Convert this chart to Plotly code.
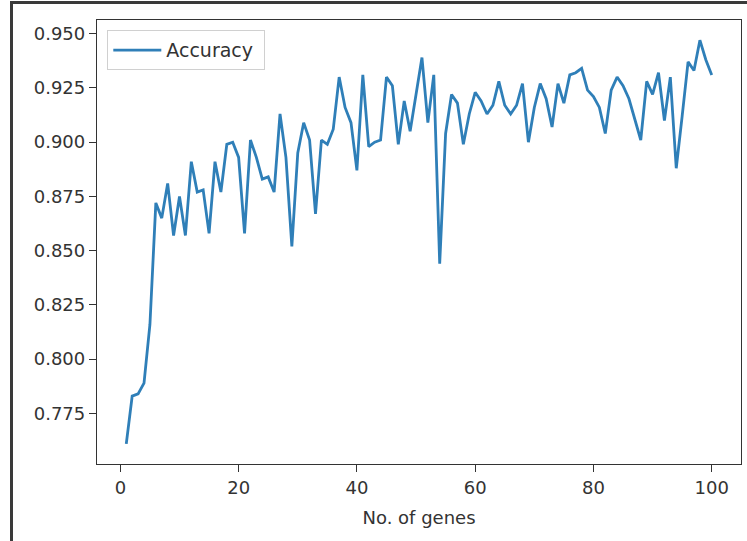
import plotly.graph_objects as go

genes = list(range(1, 101))
accuracy = [
    0.761, 0.783, 0.784, 0.789, 0.816, 0.872, 0.865, 0.881, 0.857, 0.875,
    0.857, 0.891, 0.877, 0.878, 0.858, 0.891, 0.877, 0.899, 0.900, 0.893,
    0.858, 0.901, 0.893, 0.883, 0.884, 0.877, 0.913, 0.893, 0.852, 0.895,
    0.909, 0.901, 0.867, 0.901, 0.899, 0.906, 0.930, 0.916, 0.909, 0.887,
    0.931, 0.898, 0.900, 0.901, 0.930, 0.926, 0.899, 0.919, 0.905, 0.923,
    0.939, 0.909, 0.931, 0.844, 0.904, 0.922, 0.918, 0.899, 0.913, 0.923,
    0.919, 0.913, 0.917, 0.928, 0.917, 0.913, 0.917, 0.927, 0.900, 0.916,
    0.927, 0.920, 0.907, 0.927, 0.918, 0.931, 0.932, 0.934, 0.924, 0.921,
    0.916, 0.904, 0.924, 0.930, 0.926, 0.920, 0.910, 0.901, 0.928, 0.922,
    0.932, 0.910, 0.930, 0.888, 0.912, 0.937, 0.933, 0.947, 0.938, 0.931,
]
x_ticks = [0, 20, 40, 60, 80, 100]
y_ticks = [0.775, 0.800, 0.825, 0.850, 0.875, 0.900, 0.925, 0.950]
y_tick_labels = ["0.775", "0.800", "0.825", "0.850", "0.875", "0.900", "0.925", "0.950"]

FONT = "DejaVu Sans"
fig = go.Figure()
fig.add_trace(go.Scatter(
    x=genes, y=accuracy, mode="lines", name="Accuracy ",
    line=dict(color="#2f7fb8", width=2.8),
))

W, H = 747, 541
L, R, T, B = 97, 6, 20, 77
pw, ph = W - L - R, H - T - B

fig.update_layout(
    width=W, height=H,
    margin=dict(l=L, r=R, t=T, b=B),
    paper_bgcolor="white", plot_bgcolor="white",
    font=dict(family=FONT, size=18, color="#333333"),
    showlegend=True,
    legend=dict(
        x=0.016, y=0.977, xanchor="left", yanchor="top",
        bgcolor="white", bordercolor="#d0d0d0", borderwidth=1,
        itemwidth=48,
        font=dict(family=FONT, size=19, color="#333333"),
    ),
    xaxis=dict(
        range=[-3.95, 104.95], tickvals=x_ticks,
        ticks="outside", ticklen=7, tickwidth=1.2, tickcolor="#333333",
        showline=True, linecolor="#333333", linewidth=1.3, mirror=True,
        showgrid=False, zeroline=False,
        title=dict(text="No. of genes", standoff=14,
                   font=dict(family=FONT, size=18, color="#333333")),
    ),
    yaxis=dict(
        range=[0.7517, 0.9563], tickvals=y_ticks, ticktext=y_tick_labels,
        ticks="outside", ticklen=7, tickwidth=1.2, tickcolor="#333333",
        showline=True, linecolor="#333333", linewidth=1.3, mirror=True,
        showgrid=False, zeroline=False,
    ),
)

# screenshot frame (dark border on the left and top)
def px_x(p):
    return (p - L) / pw

def px_y(p):
    return (H - B - p) / ph

fig.add_shape(type="line", xref="paper", yref="paper",
              x0=px_x(11.5), x1=px_x(11.5), y0=px_y(2), y1=px_y(541),
              line=dict(color="#3a3a3a", width=3))
fig.add_shape(type="line", xref="paper", yref="paper",
              x0=px_x(10), x1=px_x(747), y0=px_y(2.5), y1=px_y(2.5),
              line=dict(color="#3a3a3a", width=3))

fig.write_html("out.html", config={"displayModeBar": False},
               post_script="document.body.style.margin='0';")
